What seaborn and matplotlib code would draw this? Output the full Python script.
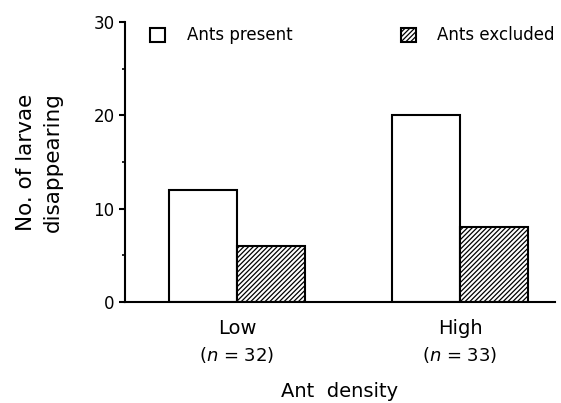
import pandas as pd
import seaborn as sns
import matplotlib.pyplot as plt
import matplotlib.patches as mpatches

groups = ["Low", "High"]
n_values = [32, 33]
treatments = ["Ants present", "Ants excluded"]
present = [12, 20]
excluded = [6, 8]

df = pd.DataFrame({
    "density": groups * 2,
    "treatment": [treatments[0]] * 2 + [treatments[1]] * 2,
    "count": present + excluded,
})

sns.set_style("ticks")
plt.rcParams['font.family'] = ['DejaVu Sans']
plt.rcParams['text.color'] = 'black'
plt.rcParams['axes.labelcolor'] = 'black'
plt.rcParams['xtick.color'] = 'black'
plt.rcParams['ytick.color'] = 'black'
plt.rcParams['hatch.linewidth'] = 0.9
plt.rcParams['mathtext.fontset'] = 'dejavusans'

fig = plt.figure(figsize=(5.61, 4.03), dpi=100)
ax = fig.add_axes([0.2228, 0.2506, 0.7665, 0.6944])

sns.barplot(data=df, x="density", y="count", hue="treatment", order=groups,
            hue_order=treatments, palette=["white", "white"], edgecolor="black",
            linewidth=1.5, width=0.61, legend=False, ax=ax)

for bar in ax.containers[1]:
    bar.set_hatch("///////")

ax.set_xlim(-0.502, 1.426)
ax.set_ylim(0, 30)
ax.set_yticks([0, 10, 20, 30])
ax.set_yticks([5, 15, 25], minor=True)
ax.tick_params(axis="y", which="major", length=4, width=1.5, pad=3.5, labelsize=12)
ax.tick_params(axis="y", which="minor", length=2.5, width=1.2)
ax.tick_params(axis="x", length=0, pad=12, labelsize=14)

sns.despine(ax=ax)
for s in ["left", "bottom"]:
    ax.spines[s].set_linewidth(1.5)
    ax.spines[s].set_color("black")

for i, n in enumerate(n_values):
    ax.annotate(f"($\\it{{n}}$ = {n})", xy=(i, 0), xycoords=("data", "axes fraction"),
                xytext=(0, -38), textcoords="offset points", ha="center", va="center",
                fontsize=13)

ax.set_xlabel("Ant  density", fontsize=14, labelpad=32)
ax.set_ylabel("No. of larvae\ndisappearing", fontsize=15.5, linespacing=1.4)
ax.yaxis.set_label_coords(-0.145, 0.5)

handles = [mpatches.Patch(facecolor="white", edgecolor="black", linewidth=1.5),
           mpatches.Patch(facecolor="white", edgecolor="black", linewidth=1.5, hatch="///////")]
ax.legend(handles, treatments, ncol=2, loc="upper left", bbox_to_anchor=(0.058, 0.985),
          frameon=False, fontsize=12, handlelength=0.9, handleheight=0.9,
          handletextpad=1.3, columnspacing=6.5, borderpad=0, borderaxespad=0)

fig.savefig("out.png", dpi=100)
